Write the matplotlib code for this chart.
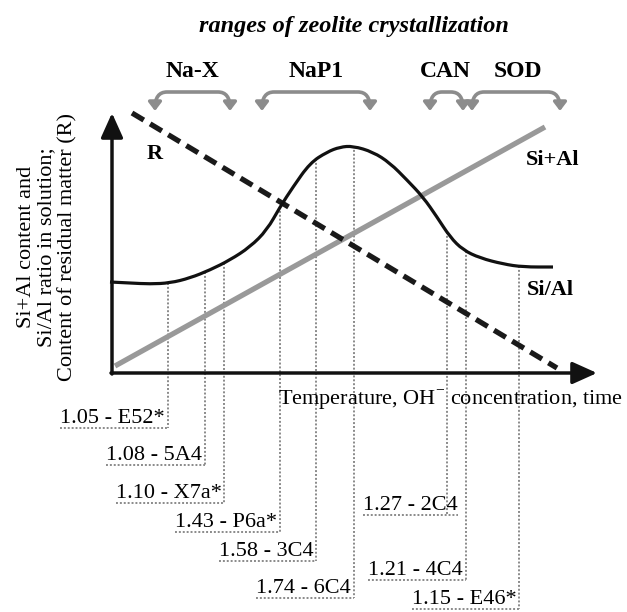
"""Schematic: ranges of zeolite crystallization"""

import numpy as np
import matplotlib
matplotlib.use("Agg")
import matplotlib.pyplot as plt
from matplotlib.path import Path
from matplotlib.patches import FancyArrowPatch, PathPatch

plt.rcParams["font.family"] = ["Liberation Serif", "DejaVu Serif"]
plt.rcParams["mathtext.fontset"] = "custom"
plt.rcParams["mathtext.rm"] = "Liberation Serif"

# schematic (pixel-like units, y grows downwards)
origin = (112, 373)
y_tip = 113
x_tip = 597

# Si/Al ratio curve
sial_x = [110, 130, 150, 170, 190, 210, 230, 250, 267, 280, 293, 310, 327, 340,
          353, 373, 390, 407, 423, 437, 450, 463, 480, 503, 523, 553]
sial_y = [282, 283, 284, 283, 278, 270, 260, 247, 230, 207, 187, 163, 152, 147,
          146, 152, 163, 180, 197, 217, 237, 250, 258, 264, 267, 267]

# Si+Al content (straight line) and residual matter R (dashed)
siplusal_x = [115, 545]
siplusal_y = [366, 127]
r_x = [132, 557]
r_y = [113, 368]

# zeolite ranges
zeolites = ["Na-X", "NaP1", "CAN", "SOD"]
range_start = [155, 262, 430, 472]
range_end = [230, 370, 463, 560]
label_center = [192, 316, 445, 518]

# samples: Si/Al ratio - sample name
samples = ["1.05 - E52*", "1.08 - 5A4", "1.10 - X7a*", "1.43 - P6a*", "1.58 - 3C4",
           "1.74 - 6C4", "1.27 - 2C4", "1.21 - 4C4", "1.15 - E46*"]
sample_x = [168, 205, 224, 280, 316, 354, 447, 466, 519]
sample_level = [428, 465, 503, 532, 561, 598, 515, 580, 609]
label_right = [165, 202, 222, 277, 314, 351, 458, 463, 517]

fig = plt.figure(figsize=(6.27, 6.12), dpi=100)
ax = fig.add_axes([0, 0, 1, 1])
ax.set_xlim(0, 627)
ax.set_ylim(612, 0)
ax.axis("off")

dot_color = "#8a8a8a"
gray = "#999999"

# sample labels with dotted leaders
renderer = fig.canvas.get_renderer()
inv = ax.transData.inverted()
for lab, sx, lev, xr in zip(samples, sample_x, sample_level, label_right):
    t = ax.text(xr, lev - 5, lab, ha="right", va="baseline", fontsize=16)
    bb = t.get_window_extent(renderer)
    x_left = inv.transform((bb.x0, bb.y0))[0]
    top = np.interp(sx, sial_x, sial_y)
    ax.plot([sx, sx], [top, lev], color=dot_color, lw=1.4, ls=(0, (1, 1)), zorder=1)
    ax.plot([x_left, max(sx, xr)], [lev, lev], color=dot_color, lw=1.4,
            ls=(0, (1, 1)), zorder=1)

# lines
ax.plot(siplusal_x, siplusal_y, color=gray, lw=3.8, solid_capstyle="butt", zorder=3)
ax.plot(r_x, r_y, color="#1a1a1a", lw=3.8, ls=(0, (2.6, 1.4)), dash_capstyle="butt", zorder=4)

# Si/Al curve drawn as a smooth path through the read points
pts = np.column_stack([sial_x, sial_y]).astype(float)
mids = (pts[:-1] + pts[1:]) / 2
verts = [pts[0], mids[0]]
codes = [Path.MOVETO, Path.LINETO]
for i in range(1, len(pts) - 1):
    verts += [pts[i], mids[i]]
    codes += [Path.CURVE3, Path.CURVE3]
verts.append(pts[-1])
codes.append(Path.LINETO)
ax.add_patch(PathPatch(Path(verts, codes), facecolor="none", edgecolor="#111111",
                       lw=2.3, zorder=5))

# axes with arrows
ax.annotate("", xy=(origin[0], y_tip), xytext=(origin[0], origin[1] + 1),
            arrowprops=dict(arrowstyle="-|>,head_length=1.0,head_width=0.45",
                            mutation_scale=15, lw=2.5, color="#111111",
                            shrinkA=0, shrinkB=0), zorder=6)
ax.annotate("", xy=(x_tip, origin[1]), xytext=(origin[0] - 1, origin[1]),
            arrowprops=dict(arrowstyle="-|>,head_length=1.0,head_width=0.45",
                            mutation_scale=15, lw=2.5, color="#111111",
                            shrinkA=0, shrinkB=0), zorder=6)

# range brackets
top_y, tip_y, rad = 92, 111, 12
for name, a, b, c in zip(zeolites, range_start, range_end, label_center):
    rr = min(rad, (b - a) / 2 - 1)
    verts = [(a, tip_y), (a, top_y), (a + rr, top_y), (b - rr, top_y),
             (b, top_y), (b, tip_y)]
    codes = [Path.MOVETO, Path.CURVE3, Path.CURVE3, Path.LINETO, Path.CURVE3, Path.CURVE3]
    arr = FancyArrowPatch(path=Path(verts, codes),
                          arrowstyle="<|-|>,head_length=5,head_width=3.8",
                          color="#8c8c8c", lw=2.6, shrinkA=0, shrinkB=0)
    ax.add_patch(arr)
    ax.text(c, 77, name, ha="center", va="baseline",
            fontsize=17, fontweight="bold")

ax.text(354, 32, "ranges of zeolite crystallization", ha="center", va="baseline",
        fontsize=17.5, fontweight="bold", fontstyle="italic")

# curve labels
ax.text(147, 159, "R", fontsize=16, fontweight="bold", va="baseline")
ax.text(526, 165, "Si+Al", fontsize=16, fontweight="bold", va="baseline")
ax.text(527, 295, "Si/Al", fontsize=16, fontweight="bold", va="baseline")

# axis titles
ax.text(278, 405, r"Temperature, OH$^{-}$ concentration, time", fontsize=16,
        va="baseline", ha="left")
ax.text(47, 247, "Si+Al content and\nSi/Al ratio in solution;\nContent of residual matter (R)",
        rotation=90, ha="center", va="center", multialignment="center",
        fontsize=16, linespacing=1.1)

fig.savefig("out.png", dpi=100)
